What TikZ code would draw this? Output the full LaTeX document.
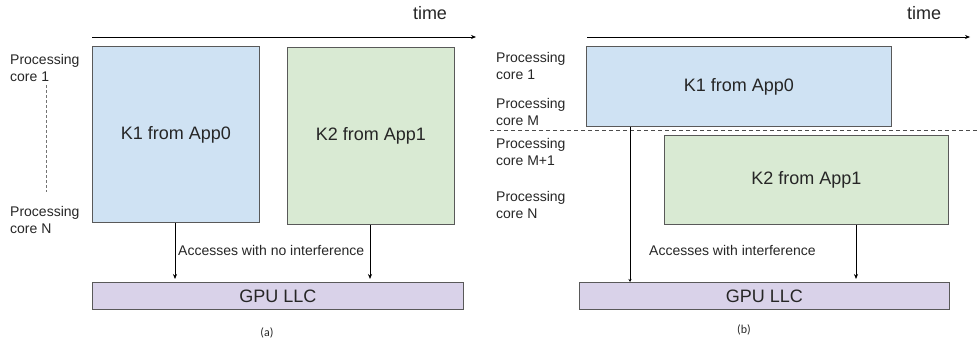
\documentclass[tikz,border=0pt]{standalone}
\usepackage{fontspec}
\setmainfont{Liberation Sans}
\newfontfamily\capfont{Carlito}
\usetikzlibrary{arrows.meta}
\definecolor{bluefill}{HTML}{CFE2F3}
\definecolor{greenfill}{HTML}{D9EAD3}
\definecolor{purplefill}{HTML}{D9D2E9}
\definecolor{boxline}{HTML}{595959}
\definecolor{txt}{HTML}{262626}
\begin{document}
\begin{tikzpicture}[x=1pt,y=-1pt,
  kbox/.style={draw=boxline, line width=0.9pt, inner sep=0pt, anchor=north west, text=txt,
    font=\fontsize{18}{20}\selectfont},
  lbl/.style={inner sep=0pt, anchor=west, align=left, text=txt,
    font=\fontsize{14}{17}\selectfont},
  timelbl/.style={inner sep=0pt, text=txt, font=\fontsize{18}{20}\selectfont},
  acc/.style={-{Stealth[length=5pt,width=4pt]}, line width=0.7pt},
  caplbl/.style={inner sep=0pt, text=txt, font=\capfont\fontsize{12}{14}\selectfont},
  dashgray/.style={draw=black!55, line width=0.8pt, dash pattern=on 3pt off 2pt}]
\useasboundingbox (0,0) rectangle (977,343);

% ---------------- panel (a) ----------------
\node[timelbl] (timea) at (430,13) {time};
\coordinate (tas) at (92,37);
\coordinate (tae) at (476,37);
\draw[acc] (tas) -- (tae);

\node[kbox, fill=bluefill, minimum width=167pt, minimum height=176pt] (k1a) at (92,46) {K1 from App0};
\node[kbox, fill=greenfill, minimum width=167pt, minimum height=177pt] (k2a) at (287,47) {K2 from App1};
\node[kbox, fill=purplefill, minimum width=371pt, minimum height=27pt] (llca) at (92,282) {GPU LLC};

\node[lbl] (pc1a) at (10,67.5) {Processing\\core 1};
\node[lbl] (pcna) at (10,220) {Processing\\core N};
\coordinate (da0) at (46,85);
\coordinate (da1) at (46,192);
\draw[dashgray] (da0) -- (da1);

\coordinate (xa1) at (175,0);
\coordinate (xa2) at (370,0);
\draw[acc, shorten >=3pt] (k1a.south -| xa1) -- (llca.north -| xa1);
\draw[acc, shorten >=3pt] (k2a.south -| xa2) -- (llca.north -| xa2);
\node[lbl] (acca) at (178,250) {Accesses with no interference};
\node[caplbl] (capa) at (267,333) {(a)};

% ---------------- panel (b) ----------------
\node[timelbl] (timeb) at (924,13) {time};
\coordinate (tbs) at (587,37);
\coordinate (tbe) at (970,37);
\draw[acc] (tbs) -- (tbe);

\node[kbox, fill=bluefill, minimum width=305pt, minimum height=80pt] (k1b) at (586,46) {K1 from App0};
\node[kbox, fill=greenfill, minimum width=284pt, minimum height=89pt] (k2b) at (664,135) {K2 from App1};
\node[kbox, fill=purplefill, minimum width=370pt, minimum height=27pt] (llcb) at (579,282) {GPU LLC};

\coordinate (db0) at (490,130);
\coordinate (db1) at (977,130);
\draw[draw=black!70, line width=0.8pt, dash pattern=on 4pt off 3pt] (db0) -- (db1);

\node[lbl] (pc1b) at (496,66) {Processing\\core 1};
\node[lbl] (pcmb) at (496,111.5) {Processing\\core M};
\node[lbl] (pcm1b) at (496,152) {Processing\\core M+1};
\node[lbl] (pcnb) at (496,204.5) {Processing\\core N};

\coordinate (xb1) at (630,0);
\coordinate (xb2) at (856,0);
\draw[-{Stealth[length=3pt,width=3pt]}, line width=0.7pt] (k1b.south -| xb1) -- (llcb.north -| xb1);
\draw[acc, shorten >=3pt] (k2b.south -| xb2) -- (llcb.north -| xb2);
\node[lbl] (accb) at (649,250) {Accesses with interference};
\node[caplbl] (capb) at (744,330) {(b)};
\end{tikzpicture}
\end{document}
